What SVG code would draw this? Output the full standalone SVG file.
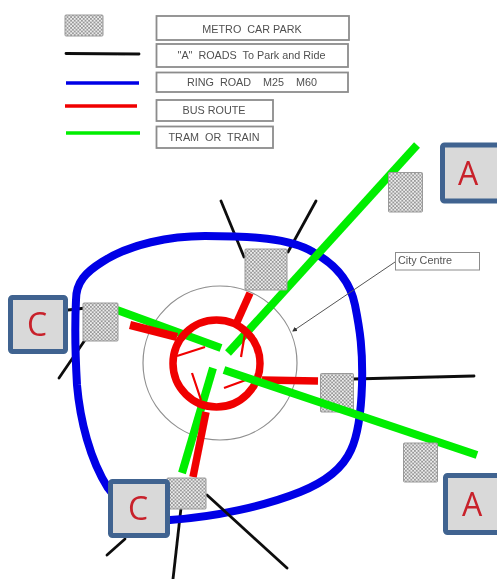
<svg xmlns="http://www.w3.org/2000/svg" width="497" height="579" viewBox="0 0 497 579">
<style>
.lg{fill:#fff;stroke:#8c8c8c;stroke-width:1.800}
.lt{font-family:"Liberation Sans",Arial,sans-serif;font-size:10.800px;fill:#505050;text-anchor:middle}
.cp{fill:url(#chk);stroke:#9a9a9a;stroke-width:1}
.k{stroke:#111;stroke-width:2.800;fill:none;stroke-linecap:round}
.b{stroke:#0000e6;fill:none}
.r{stroke:#f00000;fill:none}
.g{stroke:#00ee00;fill:none}
.tag{fill:#d9d9d9;stroke:#3f6490;stroke-width:5}
.tt{font-family:"Open Sans","Noto Sans",sans-serif;font-size:32px;fill:#c8202c;text-anchor:middle}
</style>
<defs>
<pattern id="chk" width="3.600" height="3.600" patternUnits="userSpaceOnUse">
<rect width="3.600" height="3.600" fill="#ececec"/>
<rect width="1.800" height="1.800" fill="#999"/>
<rect x="1.800" y="1.800" width="1.800" height="1.800" fill="#999"/>
</pattern>
<marker id="ah" markerWidth="5" markerHeight="5" refX="4" refY="2.500" orient="auto"><path d="M0,0L5,2.500L0,5Z" fill="#333"/></marker>
<filter id="soft" x="-5%" y="-5%" width="110%" height="110%"><feGaussianBlur stdDeviation="0.5"/></filter>
<filter id="soft2" x="-5%" y="-20%" width="110%" height="140%"><feGaussianBlur stdDeviation="0.65"/></filter>
</defs>
<rect width="497" height="579" fill="#fff"/>
<g id="legend" filter="url(#soft2)">
<rect class="cp" x="65" y="15" width="38" height="21" rx="1"/>
<path d="M66 53.500L139 54" class="k"/>
<path d="M66 83H139" class="b" stroke-width="3.500"/>
<path d="M65 106H137" class="r" stroke-width="3.500"/>
<path d="M66 133H140" class="g" stroke-width="3.500"/>
<rect class="lg" x="156.500" y="16" width="192.500" height="24"/>
<rect class="lg" x="156.500" y="44" width="191.500" height="23"/>
<rect class="lg" x="156.500" y="72.500" width="191.500" height="19.500"/>
<rect class="lg" x="156.500" y="100" width="116.500" height="21"/>
<rect class="lg" x="156.500" y="126.500" width="116.500" height="21.500"/>
<text class="lt" x="252" y="32.500" xml:space="preserve">METRO  CAR PARK</text>
<text class="lt" x="251.500" y="59" xml:space="preserve">"A"  ROADS  To Park and Ride</text>
<text class="lt" x="252" y="86" xml:space="preserve">RING  ROAD    M25    M60</text>
<text class="lt" x="214" y="114">BUS ROUTE</text>
<text class="lt" x="214" y="141" xml:space="preserve">TRAM  OR  TRAIN</text>
</g>
<g id="city-centre-zone" filter="url(#soft)">
<circle cx="220" cy="363" r="77" fill="none" stroke="#8f8f8f" stroke-width="1.200"/>
</g>
<g id="connectors" filter="url(#soft)">
<g>
<path class="k" d="M221 201L244 257"/>
<path class="k" d="M316 201L288 252"/>
<path class="k" d="M68 310L86 308"/>
<path class="k" d="M59 378L85 340"/>
<path class="k" d="M353 379L474 376"/>
<path class="k" d="M181 508L173 579"/>
<path class="k" d="M107 555L125 539"/>
</g>
<path class="b" stroke-width="8" d="M76 300C76 282 86 272 102 262C130 244 170 236 205 236C250 236 290 238 313 252C335 264 350 280 355 305C360 330 363 350 362 385C361 415 358 435 351 450C343 468 325 482 300 492C265 506 215 517 170 520C140 518 120 505 108 488C90 460 80 420 77 385C75 350 75 320 76 300Z"/>
<path class="k" d="M207 495L287 568"/>
<g stroke-linecap="butt">
<path class="g" stroke-width="8" d="M417 145L228 353"/>
<path class="g" stroke-width="8" d="M117 310L221 348"/>
<path class="g" stroke-width="8" d="M213 368L182 473"/>
<path class="r" stroke-width="8" d="M130 325L177 337"/>
<path class="r" stroke-width="7.500" d="M250 293L237 322"/>
<path class="r" stroke-width="7.500" d="M262 380L318 381"/>
<path class="r" stroke-width="7.500" d="M206 412L193 477"/>
<path class="r" stroke-width="2.200" d="M177 356L205 347"/>
<path class="r" stroke-width="2.200" d="M245 333L241 357"/>
<path class="r" stroke-width="2.200" d="M254 377L224 388"/>
<path class="r" stroke-width="2.200" d="M192 373L201 400"/>
<circle class="r" stroke-width="7.500" cx="216.500" cy="363.500" r="43.500"/>
</g>
<path d="M395 262L293 331" fill="none" stroke="#555" stroke-width="1" marker-end="url(#ah)"/>
</g>
<g id="car-park-right" filter="url(#soft)"><rect class="cp" x="320.500" y="373.500" width="33" height="38.500" rx="1"/></g>
<path class="g" stroke-width="8" d="M224 370L477 455" filter="url(#soft)"/>
<g id="car-park-top" filter="url(#soft)"><rect class="cp" x="245" y="249" width="42" height="41" rx="1"/></g>
<g id="car-park-left" filter="url(#soft)"><rect class="cp" x="83" y="303" width="35" height="38" rx="1"/></g>
<g id="car-park-bottom" filter="url(#soft)"><rect class="cp" x="167" y="478" width="39" height="31" rx="1"/></g>
<g id="car-park-upper-right" filter="url(#soft)"><rect class="cp" x="388.500" y="172.500" width="34" height="39.500" rx="1"/></g>
<g id="car-park-lower-right" filter="url(#soft)"><rect class="cp" x="403.500" y="443" width="34" height="39" rx="1"/></g>
<g id="city-centre" filter="url(#soft)">
<rect x="395.500" y="252.500" width="84" height="17.500" fill="#fff" stroke="#8c8c8c" stroke-width="1"/>
<text x="398" y="263.500" font-family="Liberation Sans,Arial,sans-serif" font-size="10.800" fill="#555">City Centre</text>
</g>
<g id="tag-a-top" filter="url(#soft)"><rect class="tag" x="442.500" y="145" width="60" height="56" rx="2"/><text class="tt" x="468" y="185">A</text></g>
<g id="tag-a-bottom" filter="url(#soft)"><rect class="tag" x="445.500" y="475.500" width="60" height="57" rx="2"/><text class="tt" x="472" y="516">A</text></g>
<g id="tag-c-left" filter="url(#soft)"><rect class="tag" x="10.500" y="297.500" width="55" height="54" rx="2"/><text class="tt" x="37" y="336">C</text></g>
<g id="tag-c-bottom" filter="url(#soft)"><rect class="tag" x="110.500" y="481.500" width="57" height="54" rx="2"/><text class="tt" x="138" y="520">C</text></g>
</svg>
